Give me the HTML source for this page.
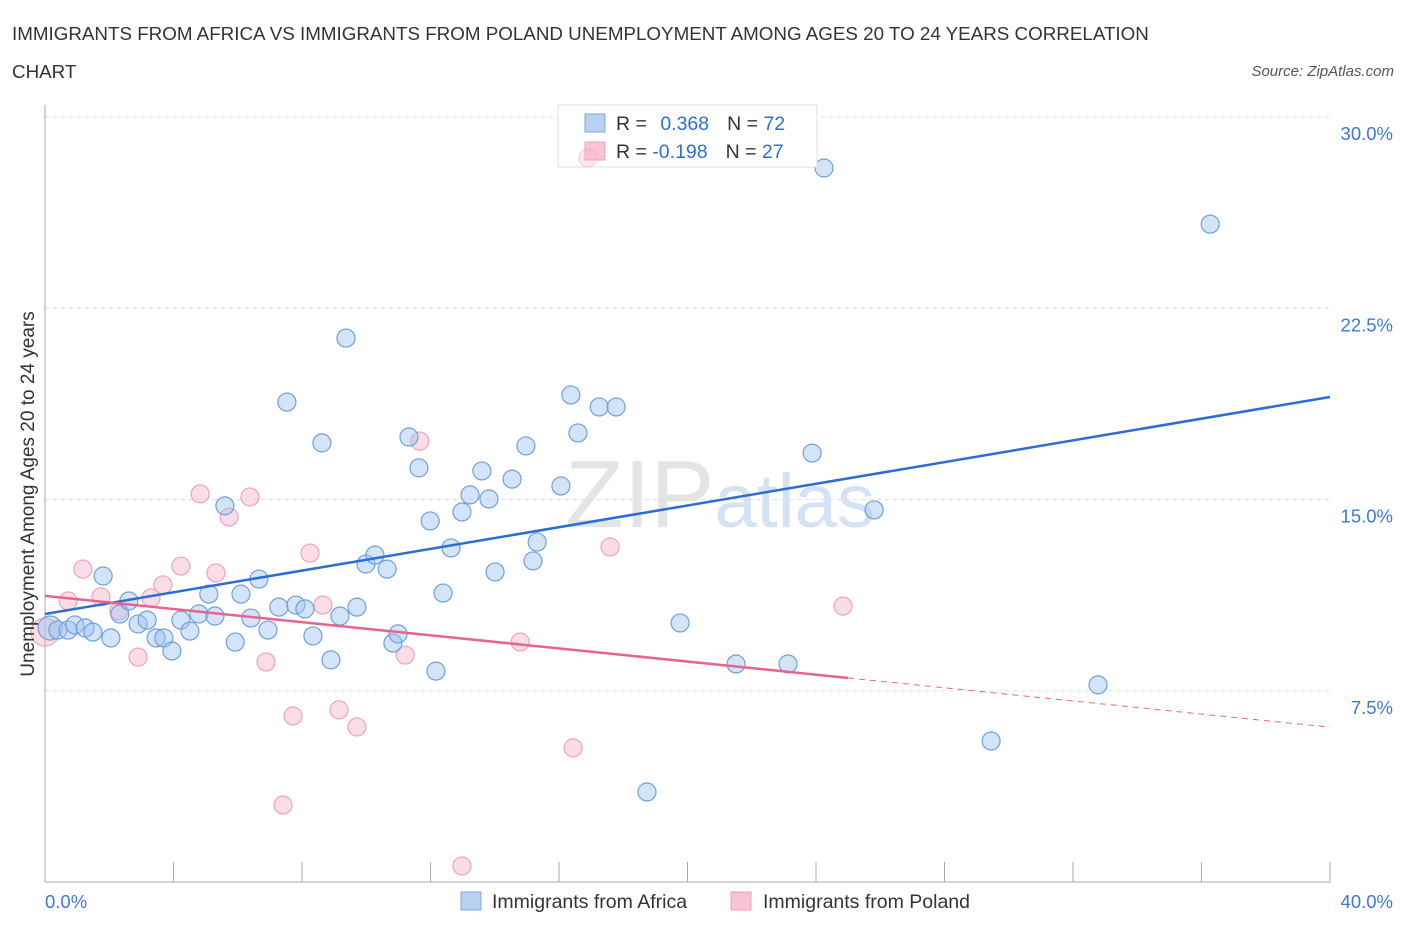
<!DOCTYPE html>
<html><head><meta charset="utf-8"><style>
body{margin:0;background:#fff;font-family:"Liberation Sans",sans-serif;}
svg text{font-family:"Liberation Sans",sans-serif;}
</style></head><body>
<svg id="chart" width="1406" height="930" viewBox="0 0 1406 930" xmlns="http://www.w3.org/2000/svg">
<text x="12" y="40" font-size="18.8" fill="#333">IMMIGRANTS FROM AFRICA VS IMMIGRANTS FROM POLAND UNEMPLOYMENT AMONG AGES 20 TO 24 YEARS CORRELATION</text>
<text x="12" y="78" font-size="18.8" fill="#333">CHART</text>
<text x="1394" y="76" font-size="15" fill="#555" text-anchor="end" font-style="italic">Source: ZipAtlas.com</text>
<text x="720" y="527" font-size="96" fill="#e4e4e4" text-anchor="middle" font-family="Liberation Serif">ZIP<tspan fill="#d4e2f4" font-family="Liberation Sans" font-size="76">atlas</tspan></text>
<g id="grid"></g>
<g id="axes"></g>
<g id="marks"></g>
<text transform="translate(34,494) rotate(-90)" font-size="19" fill="#333" text-anchor="middle">Unemployment Among Ages 20 to 24 years</text>
<g>
<rect x="558" y="105" width="259" height="62" fill="#fff" stroke="#ddd"/>
<rect x="585" y="114" width="20" height="18" fill="#b8d1f3" stroke="#7aa7e3"/>
<text x="616" y="130" font-size="19.5" fill="#333">R = <tspan fill="#2e6fd6" dx="8">0.368</tspan><tspan dx="18">N = </tspan><tspan fill="#2e6fd6">72</tspan></text>
<rect x="585" y="142" width="20" height="18" fill="#f8c4d4" stroke="#ee9fb8"/>
<text x="616" y="158" font-size="19.5" fill="#333">R = <tspan fill="#2e6fd6">-0.198</tspan><tspan dx="18">N = </tspan><tspan fill="#2e6fd6">27</tspan></text>
<circle cx="588" cy="158" r="9" fill="rgba(246,180,202,0.3)" stroke="#f0a2bb" stroke-opacity="0.5"/>
</g>
<g>
<rect x="461" y="892" width="20" height="18" fill="#b8d1f3" stroke="#7aa7e3"/>
<text x="492" y="908" font-size="19.5" fill="#333">Immigrants from Africa</text>
<rect x="731" y="892" width="20" height="18" fill="#f8c4d4" stroke="#ee9fb8"/>
<text x="763" y="908" font-size="19.5" fill="#333">Immigrants from Poland</text>
</g>
</svg>
<script>
const blueX=[0.16,0.40,0.72,0.93,1.25,1.49,1.81,2.05,2.33,2.61,2.90,3.18,3.46,3.70,3.95,4.23,4.51,4.79,5.10,5.29,5.60,5.92,6.10,6.41,6.66,6.94,7.28,7.53,7.81,8.09,8.34,8.62,8.90,9.18,9.37,9.71,9.99,10.27,10.65,10.83,10.99,11.33,11.64,11.99,12.17,12.39,12.64,12.98,13.23,13.60,13.82,14.01,14.54,14.97,15.19,15.32,16.06,16.37,16.59,17.25,17.78,18.74,19.77,21.51,23.13,23.88,24.25,25.81,29.45,32.78,36.27];
const blueY=[9.96,9.88,9.88,10.08,9.96,9.80,12.00,9.57,10.51,11.02,10.12,10.27,9.57,9.57,9.06,10.27,9.84,10.51,11.29,10.43,14.75,9.41,11.29,10.35,11.88,9.88,10.78,18.82,10.86,10.71,9.65,17.22,8.71,10.43,21.33,10.78,12.47,12.82,12.27,9.37,9.73,17.45,16.24,14.16,8.27,11.33,13.10,14.51,15.18,16.12,15.02,12.16,15.80,17.10,12.59,13.33,15.53,19.10,17.61,18.63,18.63,3.53,10.16,8.55,8.55,16.82,28.00,14.59,5.53,7.73,25.80];
const pinkX=[0.0,0.72,1.18,1.74,2.30,2.90,3.30,3.67,4.23,4.83,5.32,5.73,6.38,6.88,7.41,7.72,8.25,8.65,9.15,9.71,11.21,11.67,12.98,14.79,16.44,17.59,24.84];
const pinkY=[9.80,11.02,12.27,11.18,10.63,8.82,11.14,11.65,12.39,15.22,12.12,14.31,15.10,8.63,3.02,6.51,12.90,10.86,6.75,6.08,8.90,17.29,0.63,9.41,5.26,13.14,10.82];
const blueTrend=[10.51,19.02];
const pinkTrend=[11.22,6.07];
const pinkSolidEnd=25;
const yTicks=[7.5,15.0,22.5,30.0];
const yTickLabels=["7.5%","15.0%","22.5%","30.0%"];
const xTicks=[0,4,8,12,16,20,24,28,32,36,40];

const NS="http://www.w3.org/2000/svg";
const X0=45,X1=1330,Y0=882,Y30=117;
const sx=v=>X0+(v/40)*(X1-X0);
const sy=v=>Y0-(v/30)*(Y0-Y30);
function mk(t,a,p){const e=document.createElementNS(NS,t);for(const k in a)e.setAttribute(k,a[k]);p.appendChild(e);return e;}
const grid=document.getElementById('grid'),axes=document.getElementById('axes'),marks=document.getElementById('marks');
yTicks.forEach((v,i)=>{
  const l=mk('line',{x1:X0,x2:X1,y1:sy(v),y2:sy(v),stroke:'#ddd','stroke-dasharray':'4,4'},grid);
  
  
  const t=mk('text',{x:1393,y:sy(v)+23,'font-size':18.5,fill:'#3a78d6','text-anchor':'end'},grid);
  t.textContent=yTickLabels[i];
  
  
});
const ya=mk('line',{x1:X0,x2:X0,y1:105,y2:Y0,stroke:'#aaa'},axes);


const xa=mk('line',{x1:X0,x2:X1,y1:Y0,y2:Y0,stroke:'#aaa'},axes);


xTicks.forEach(v=>{
  const l=mk('line',{x1:sx(v),x2:sx(v),y1:Y0-20,y2:Y0,stroke:'#aaa'},axes);
  
  
});
const xl0=mk('text',{x:45,y:908,'font-size':18.5,fill:'#3a78d6'},axes);xl0.textContent='0.0%';


const xl1=mk('text',{x:1393,y:908,'font-size':18.5,fill:'#3a78d6','text-anchor':'end'},axes);xl1.textContent='40.0%';



pinkX.forEach((x,i)=>{
  const c=mk('circle',{cx:sx(x),cy:sy(pinkY[i]),r:i===0?14:9,fill:'rgba(246,180,202,0.45)',stroke:'#f0a2bb','stroke-width':1.2},marks);
  
  
});
blueX.forEach((x,i)=>{
  const c=mk('circle',{cx:sx(x),cy:sy(blueY[i]),r:i===0?12:9,fill:'rgba(160,196,240,0.45)',stroke:'#6e9fe0','stroke-width':1.2},marks);
  
  
});
const bt=mk('line',{x1:sx(0),y1:sy(blueTrend[0]),x2:sx(40),y2:sy(blueTrend[1]),stroke:'#2a6dd6','stroke-width':2.5},marks);


const pAt=x=>pinkTrend[0]+(pinkTrend[1]-pinkTrend[0])*x/40;
const pt=mk('line',{x1:sx(0),y1:sy(pAt(0)),x2:sx(pinkSolidEnd),y2:sy(pAt(pinkSolidEnd)),stroke:'#e8638e','stroke-width':2.5},marks);


const pd=mk('line',{x1:sx(pinkSolidEnd),y1:sy(pAt(pinkSolidEnd)),x2:sx(40),y2:sy(pAt(40)),stroke:'#e8638e','stroke-width':1,'stroke-dasharray':'6,5'},marks);


</script>
</body></html>
